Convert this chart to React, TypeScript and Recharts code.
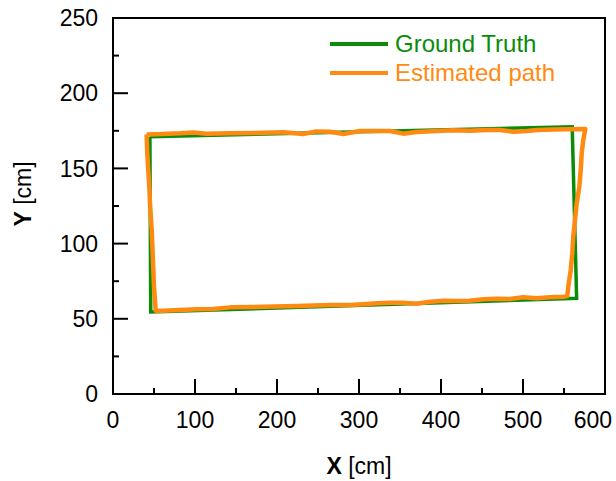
import React from "react";
import { LineChart, Line, XAxis, YAxis, ReferenceArea, Legend } from "recharts";

const FONT = "Arial, 'Liberation Sans', sans-serif";

// ground truth rectangle (cm)
const groundTruthX = [45, 560, 565.4, 46, 45];
const groundTruthY = [171.1, 177.7, 63.6, 54.5, 171.1];

// estimated path (cm), read along the loop: top edge, right edge, bottom edge, left edge
const estimatedX = [
  41, 60, 82, 98, 114, 143, 183, 208, 232, 248, 265, 281, 301, 338, 354, 370, 395, 415, 435, 456, 472, 488, 505, 517, 537, 553, 576,
  573.5, 571.6, 570.4, 568.7, 565.5, 563.4, 561.3, 560.1, 558.2, 555.2, 554,
  549, 533, 517, 500, 484, 468, 452, 435, 419, 403, 387, 370, 354, 338, 322, 305, 289, 265, 224, 183, 143, 122, 102, 82, 61, 52,
  50, 48.4, 47.2, 45.1, 44.3, 43, 41.8, 41,
];
const estimatedY = [
  172.6, 172.8, 173.3, 173.9, 173.1, 173.3, 173.7, 174, 172.9, 174.6, 174.4, 172.9, 174.9, 174.9, 173.1, 174.2, 174.9, 175.3, 175.1, 175.5, 175.5, 174.4, 174.9, 175.5, 175.8, 176, 176.2,
  168.9, 160, 148.9, 137.8, 126.8, 115.7, 104.6, 93.5, 82.4, 71.3, 65.2,
  64.7, 64.3, 63.6, 64.3, 63.2, 63.4, 63, 62, 61.8, 62, 61.4, 60, 60.7, 60.7, 60.3, 59.7, 59.2, 59.2, 58.5, 58, 57.6, 56.5, 56.3, 55.9, 55.4, 55.4,
  71.3, 93.5, 109, 126.8, 137.8, 148.9, 160, 172.6,
];

const xTicks = [0, 50, 100, 150, 200, 250, 300, 350, 400, 450, 500, 550, 600];
const yTicks = [0, 25, 50, 75, 100, 125, 150, 175, 200, 225, 250];
const legendOrder = ["Ground Truth", "Estimated path"];

const groundTruth = groundTruthX.map((x, i) => ({ x, y: groundTruthY[i] }));
const estimated = estimatedX.map((x, i) => ({ x, y: estimatedY[i] }));

const XTick = (props: any) => {
  const { x, y, payload } = props;
  const major = payload.value % 100 === 0;
  const y0 = y - 1;
  // last label is pulled in so it stays inside the picture
  const last = payload.value === xTicks[xTicks.length - 1];
  return (
    <g>
      <line x1={x} y1={y0} x2={x} y2={y0 - (major ? 14 : 5)} stroke="#000" strokeWidth={2} />
      {major && (
        <text x={last ? x + 7 : x} y={y0 + 35} textAnchor={last ? "end" : "middle"} fontSize={23} fill="#000" fontFamily={FONT}>
          {payload.value}
        </text>
      )}
    </g>
  );
};

const YTick = (props: any) => {
  const { x, y, payload } = props;
  const major = payload.value % 50 === 0;
  const x0 = x + 1;
  return (
    <g>
      <line x1={x0} y1={y} x2={x0 + (major ? 14 : 5)} y2={y} stroke="#000" strokeWidth={2} />
      {major && (
        <text x={x0 - 16} y={y} dy="0.36em" textAnchor="end" fontSize={23} fill="#000" fontFamily={FONT}>
          {payload.value}
        </text>
      )}
    </g>
  );
};

const XLabel = () => (
  <text x={359} y={474} textAnchor="middle" fontSize={23} fill="#000" fontFamily={FONT}>
    <tspan fontWeight="bold">X</tspan> [cm]
  </text>
);

const YLabel = () => (
  <text x={31} y={194} transform="rotate(-90 31 194)" textAnchor="middle" fontSize={23} fill="#000" fontFamily={FONT}>
    <tspan fontWeight="bold">Y</tspan> [cm]
  </text>
);

const LegendBox = (props: any) => {
  const items = [...(props.payload || [])].sort(
    (a: any, b: any) => legendOrder.indexOf(a.value) - legendOrder.indexOf(b.value)
  );
  return (
    <div style={{ fontFamily: FONT, fontSize: 24 }}>
      {items.map((p: any) => (
        <div key={p.value} style={{ display: "flex", alignItems: "center", height: 29 }}>
          <svg width={65} height={10}>
            <line x1={0} x2={58} y1={5} y2={5} stroke={p.color} strokeWidth={4} />
          </svg>
          <span style={{ color: p.color, lineHeight: "29px" }}>{p.value}</span>
        </div>
      ))}
    </div>
  );
};

export default function App() {
  return (
    <div style={{ position: "absolute", left: 0, top: 0, background: "#fff" }}>
      <LineChart width={616} height={481} margin={{ top: 18, right: 11, bottom: 86, left: 112 }}>
        <XAxis
          dataKey="x"
          type="number"
          domain={[0, 600]}
          ticks={xTicks}
          interval={0}
          height={1}
          tickSize={0}
          tickMargin={0}
          tickLine={false}
          tick={<XTick />}
          axisLine={{ stroke: "#000", strokeWidth: 2 }}
          label={<XLabel />}
        />
        <YAxis
          dataKey="y"
          type="number"
          domain={[0, 250]}
          ticks={yTicks}
          interval={0}
          width={1}
          tickSize={0}
          tickMargin={0}
          tickLine={false}
          tick={<YTick />}
          axisLine={{ stroke: "#000", strokeWidth: 2 }}
          label={<YLabel />}
        />
        <ReferenceArea x1={0} x2={600} y1={0} y2={250} fill="none" stroke="#000" strokeWidth={2} />
        <Legend
          layout="vertical"
          align="center"
          verticalAlign="middle"
          content={<LegendBox />}
          wrapperStyle={{ top: 29, left: 330, width: 250 }}
        />
        <Line
          data={groundTruth}
          dataKey="y"
          name="Ground Truth"
          type="linear"
          stroke="#0a8c0a"
          strokeWidth={3.5}
          dot={false}
          activeDot={false}
          isAnimationActive={false}
        />
        <Line
          data={estimated}
          dataKey="y"
          name="Estimated path"
          type="linear"
          stroke="#ff8a12"
          strokeWidth={4.5}
          strokeLinejoin="round"
          dot={false}
          activeDot={false}
          isAnimationActive={false}
        />
      </LineChart>
    </div>
  );
}
